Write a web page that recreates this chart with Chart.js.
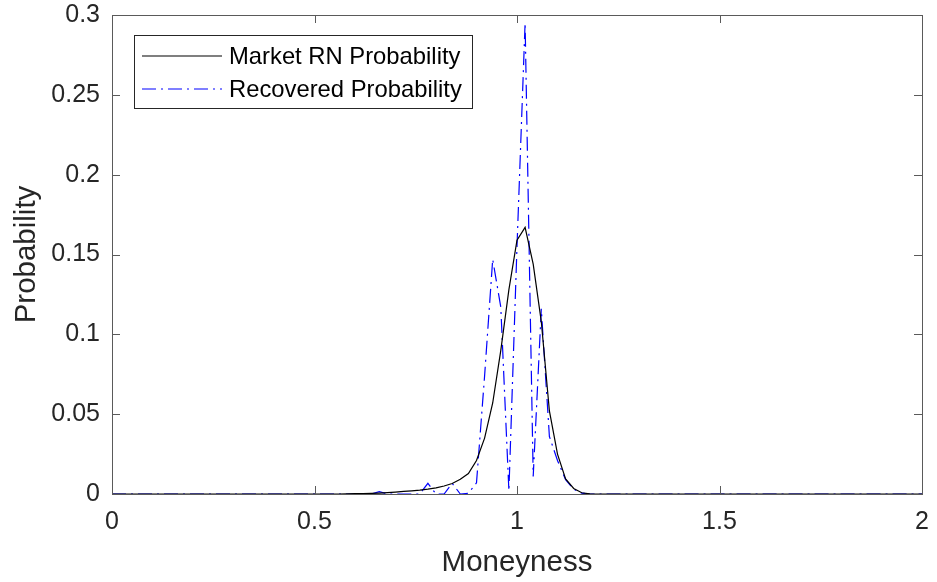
<!DOCTYPE html>
<html>
<head>
<meta charset="utf-8">
<script src="https://cdn.jsdelivr.net/npm/chart.js@4/dist/chart.umd.min.js"></script>
<style>
  html, body { margin: 0; padding: 0; background: #fff; }
  #wrap { width: 937px; height: 582px; }
</style>
</head>
<body>
<div id="wrap"><canvas id="chart"></canvas></div>
<script>
// moneyness grid, 0 to 2 in steps of 0.02
const moneyness = [
  0.00, 0.02, 0.04, 0.06, 0.08, 0.10, 0.12, 0.14, 0.16, 0.18,
  0.20, 0.22, 0.24, 0.26, 0.28, 0.30, 0.32, 0.34, 0.36, 0.38,
  0.40, 0.42, 0.44, 0.46, 0.48, 0.50, 0.52, 0.54, 0.56, 0.58,
  0.60, 0.62, 0.64, 0.66, 0.68, 0.70, 0.72, 0.74, 0.76, 0.78,
  0.80, 0.82, 0.84, 0.86, 0.88, 0.90, 0.92, 0.94, 0.96, 0.98,
  1.00, 1.02, 1.04, 1.06, 1.08, 1.10, 1.12, 1.14, 1.16, 1.18,
  1.20, 1.22, 1.24, 1.26, 1.28, 1.30, 1.32, 1.34, 1.36, 1.38,
  1.40, 1.42, 1.44, 1.46, 1.48, 1.50, 1.52, 1.54, 1.56, 1.58,
  1.60, 1.62, 1.64, 1.66, 1.68, 1.70, 1.72, 1.74, 1.76, 1.78,
  1.80, 1.82, 1.84, 1.86, 1.88, 1.90, 1.92, 1.94, 1.96, 1.98,
  2.00
];

const marketProb = [
  0, 0, 0, 0, 0, 0, 0, 0, 0, 0,
  0, 0, 0, 0, 0, 0, 0, 0, 0, 0,
  0, 0, 0, 0, 0, 0, 0, 0, 0, 0.0001,
  0.0002, 0.0003, 0.0004, 0.0006, 0.0009, 0.0012, 0.0016, 0.0020, 0.0024, 0.0030,
  0.0038, 0.0050, 0.0066, 0.0092, 0.0128, 0.021, 0.035, 0.057, 0.090, 0.128,
  0.159, 0.167, 0.144, 0.108, 0.052, 0.025, 0.0095, 0.0035, 0.0008, 0.0001,
  0, 0, 0, 0, 0, 0, 0, 0, 0, 0,
  0, 0, 0, 0, 0, 0, 0, 0, 0, 0,
  0, 0, 0, 0, 0, 0, 0, 0, 0, 0,
  0, 0, 0, 0, 0, 0, 0, 0, 0, 0,
  0
];

const recoveredProb = [
  0, 0, 0, 0, 0, 0, 0, 0, 0, 0,
  0, 0, 0, 0, 0, 0, 0, 0, 0, 0,
  0, 0, 0, 0, 0, 0, 0, 0, 0, 0,
  0, 0, 0, 0.0015, 0, 0, 0, 0, 0, 0.0067,
  0, 0, 0.0067, 0, 0.0005, 0.007, 0.074, 0.147, 0.117, 0.002,
  0.155, 0.295, 0.011, 0.116, 0.036, 0.021, 0.009, 0.003, 0.0005, 0,
  0, 0, 0, 0, 0, 0, 0, 0, 0, 0,
  0, 0, 0, 0, 0, 0, 0, 0, 0, 0,
  0, 0, 0, 0, 0, 0, 0, 0, 0, 0,
  0, 0, 0, 0, 0, 0, 0, 0, 0, 0,
  0
];

const xTicks = [0, 0.5, 1, 1.5, 2];
const yTicks = [0, 0.05, 0.1, 0.15, 0.2, 0.25, 0.3];

const FONT = "'Liberation Sans', Arial, Helvetica, sans-serif";
const AXIS_COLOR = '#262626';

// closed box round the plot area with inward tick marks on all four sides
const axesBox = {
  id: 'axesBox',
  afterDatasetsDraw(chart) {
    const { ctx, chartArea: a, scales: { x, y } } = chart;
    const len = 8;
    ctx.save();
    ctx.strokeStyle = '#5a5a5a';
    ctx.lineWidth = 1;
    ctx.beginPath();
    xTicks.forEach(v => {
      const px = Math.round(x.getPixelForValue(v)) + 0.5;
      ctx.moveTo(px, a.bottom); ctx.lineTo(px, a.bottom - len);
      ctx.moveTo(px, a.top); ctx.lineTo(px, a.top + len);
    });
    yTicks.forEach(v => {
      const py = Math.round(y.getPixelForValue(v)) + 0.5;
      ctx.moveTo(a.left, py); ctx.lineTo(a.left + len, py);
      ctx.moveTo(a.right, py); ctx.lineTo(a.right - len, py);
    });
    ctx.stroke();
    ctx.strokeRect(Math.round(a.left) + 0.5, Math.round(a.top) + 0.5,
                   Math.round(a.right - a.left), Math.round(a.bottom - a.top));
    ctx.restore();
  }
};

// legend box in the upper-left corner of the axes
const boxLegend = {
  id: 'boxLegend',
  afterDraw(chart) {
    const { ctx, chartArea: a } = chart;
    const bx = a.left + 22, by = a.top + 20, bw = 338, bh = 73;
    ctx.save();
    ctx.fillStyle = '#fff';
    ctx.fillRect(bx, by, bw, bh);
    ctx.strokeStyle = '#262626';
    ctx.lineWidth = 1;
    ctx.strokeRect(bx + 0.5, by + 0.5, bw, bh);
    ctx.font = '23.8px ' + FONT;
    ctx.textBaseline = 'middle';
    chart.data.datasets.forEach((ds, i) => {
      const yy = by + 21 + i * 33;
      ctx.strokeStyle = ds.borderColor;
      ctx.lineWidth = ds.borderWidth;
      ctx.setLineDash(ds.borderDash || []);
      ctx.beginPath();
      ctx.moveTo(bx + 8, yy);
      ctx.lineTo(bx + 88, yy);
      ctx.stroke();
      ctx.setLineDash([]);
      ctx.fillStyle = '#000';
      ctx.fillText(ds.label, bx + 95, yy + 1);
    });
    ctx.restore();
  }
};

const toPoints = vals => moneyness.map((m, i) => ({ x: m, y: vals[i] }));

new Chart(document.getElementById('chart'), {
  type: 'line',
  data: {
    datasets: [
      {
        label: 'Market RN Probability',
        data: toPoints(marketProb),
        borderColor: '#000000',
        borderWidth: 1.2,
        pointRadius: 0,
        tension: 0
      },
      {
        label: 'Recovered Probability',
        data: toPoints(recoveredProb),
        borderColor: '#0000ff',
        borderWidth: 1.2,
        borderDash: [14, 5, 2, 5],
        pointRadius: 0,
        tension: 0
      }
    ]
  },
  plugins: [axesBox, boxLegend],
  options: {
    responsive: true,
    maintainAspectRatio: false,
    animation: false,
    layout: { padding: { top: 15, right: 15, left: 0, bottom: 0 } },
    plugins: {
      legend: { display: false },
      tooltip: { enabled: false }
    },
    scales: {
      x: {
        type: 'linear',
        min: 0,
        max: 2,
        afterFit: s => {
          s.height = 88;
          s.paddingLeft = 0;
          s.paddingRight = 0;
        },
        afterBuildTicks: s => { s.ticks = xTicks.map(v => ({ value: v })); },
        grid: { display: false, drawTicks: false },
        border: { display: false },
        ticks: {
          color: AXIS_COLOR,
          padding: 13,
          maxRotation: 0,
          font: { family: FONT, size: 25 },
          callback: v => String(+v.toFixed(2))
        },
        title: {
          display: true,
          text: 'Moneyness',
          color: AXIS_COLOR,
          padding: { bottom: 1 },
          font: { family: FONT, size: 29.5 }
        }
      },
      y: {
        min: 0,
        max: 0.3,
        afterFit: s => {
          s.width = 112;
          s.paddingTop = 0;
          s.paddingBottom = 0;
        },
        afterBuildTicks: s => { s.ticks = yTicks.map(v => ({ value: v })); },
        grid: { display: false, drawTicks: false },
        border: { display: false },
        ticks: {
          color: AXIS_COLOR,
          padding: 12,
          font: { family: FONT, size: 25 },
          callback: v => String(+v.toFixed(3))
        },
        title: {
          display: true,
          text: 'Probability',
          color: AXIS_COLOR,
          padding: { top: 9 },
          font: { family: FONT, size: 29.5 }
        }
      }
    }
  }
});
</script>
</body>
</html>
